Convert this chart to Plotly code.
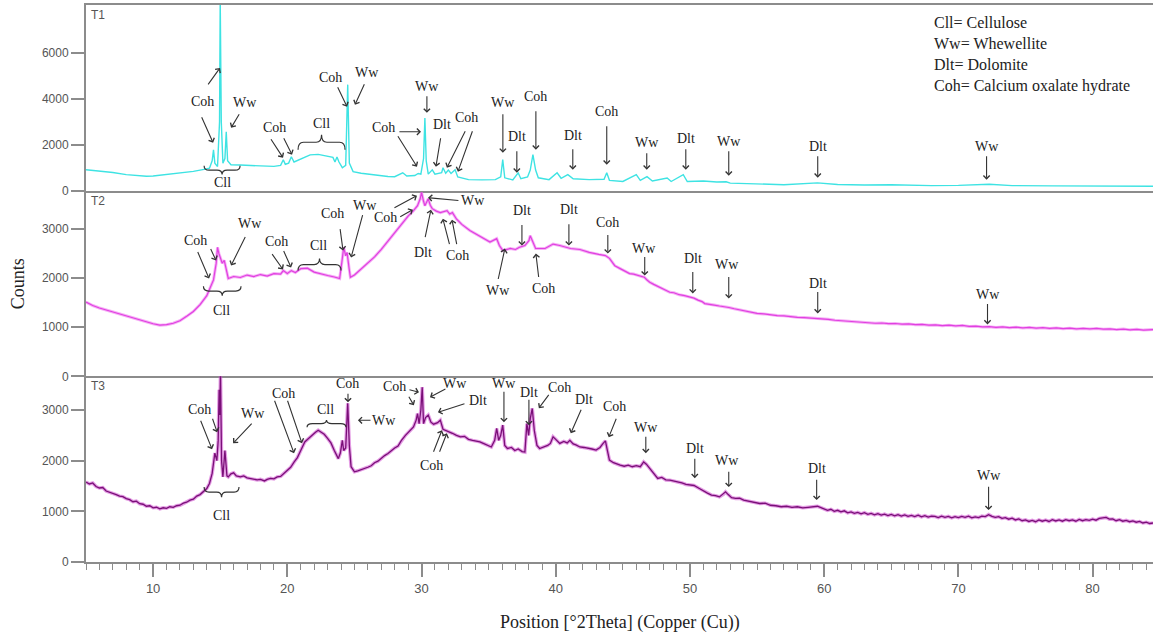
import plotly.graph_objects as go
from plotly.subplots import make_subplots

# ---------------- data (2Theta in degrees, counts) ----------------
t1_x = [5.0, 6.0, 7.0, 8.0, 9.0, 9.5, 10.0, 11.0, 12.0, 13.0, 13.8, 14.2, 14.4, 14.5, 14.6, 14.8, 14.95, 15.0, 15.08,
        15.2, 15.35, 15.45, 15.55, 15.8, 16.5, 17.0, 18.0, 19.0, 19.5, 19.7, 19.85, 20.1, 20.3, 20.5, 21.0, 21.7,
        22.3, 22.9, 23.4, 23.55, 23.7, 23.85, 24.1, 24.35, 24.5, 24.62, 24.9, 25.5, 26.5, 27.5, 28.0, 28.6, 28.9,
        29.5, 29.75, 29.95, 30.15, 30.25, 30.35, 30.5, 30.8, 31.0, 31.5, 31.6, 31.8, 32.0, 32.2, 32.5, 32.7, 33.5,
        34.5, 35.5, 35.9, 36.05, 36.2, 36.8, 37.2, 37.4, 37.9, 38.1, 38.3, 38.5, 38.7, 39.5, 40.1, 40.4, 40.9, 41.3,
        42.5, 43.6, 43.8, 44.0, 45.0, 46.0, 46.3, 46.8, 47.2, 48.3, 48.6, 49.5, 49.8, 51.0, 52.0, 52.7, 53.0, 55.0,
        57.0, 59.5, 61.0, 63.0, 65.0, 68.0, 70.0, 72.3, 74.0, 77.0, 80.0, 84.5]
t1_y = [910, 860, 790, 700, 640, 625, 640, 700, 770, 840, 930, 980, 1300, 1780, 1200, 1050, 3000, 8400, 3000,
        1200, 1400, 2570, 1300, 1130, 1120, 1100, 1080, 1060, 1100, 1350, 1150, 1200, 1480, 1250, 1380, 1560,
        1580, 1520, 1450, 1250, 1470, 1250, 1000, 1100, 4620, 1200, 830, 760, 680, 620, 610, 780, 640,
        660, 750, 720, 1400, 3170, 1300, 720, 910, 720, 780, 1000, 760, 900, 750, 910, 600, 480,
        470, 480, 600, 1350, 560, 470, 780, 520, 600, 900, 1570, 900, 560, 480, 780, 540, 700, 520,
        480, 500, 780, 450, 400, 700, 450, 610, 420, 550, 400, 700, 400, 420, 380, 390, 330, 300,
        260, 340, 270, 250, 260, 220, 230, 280, 220, 210, 200, 190]

t2_x = [5.0, 5.5, 6.0, 6.5, 7.0, 7.5, 8.0, 8.5, 9.0, 9.5, 10.0, 10.5, 11.0, 11.5, 12.0, 12.5, 13.0, 13.5, 14.0,
        14.25, 14.5, 14.7, 14.8, 14.9, 15.0, 15.15, 15.3, 15.45, 15.6, 16.0, 16.5, 17.0, 17.5, 18.0, 18.5, 19.0,
        19.5, 19.7, 20.0, 20.3, 20.6, 21.0, 21.5, 22.0, 22.5, 23.0, 23.5, 23.9, 24.1, 24.2, 24.35, 24.45, 24.6,
        24.7, 25.0, 25.5, 26.0, 26.5, 27.0, 27.5, 28.0, 28.5, 29.0, 29.4, 29.7, 29.9, 30.0, 30.15, 30.25, 30.5,
        30.65, 30.8, 31.1, 31.4, 31.9, 32.1, 32.3, 32.6, 33.0, 33.6, 34.0, 34.5, 35.1, 35.6, 35.8, 36.05, 36.6,
        37.0, 37.3, 37.7, 38.0, 38.1, 38.3, 38.5, 39.2, 39.8, 40.3, 41.1, 41.8, 42.5, 43.2, 43.7,
        44.0, 44.4, 44.8, 45.0, 45.3, 45.5, 45.8, 46.0, 46.3, 46.6, 46.8, 47.0, 47.3, 47.6, 47.8, 48.1, 48.5,
        48.8, 49.2, 49.6, 50.0, 50.3, 50.6, 50.9, 51.1, 51.5, 51.8, 52.2, 52.6, 52.9, 53.3, 53.7, 54.0, 54.5,
        55.0, 55.5, 56.0, 56.5, 57.0, 57.5, 58.0, 58.5, 59.0, 59.5, 59.8, 60.3, 60.8, 61.3, 61.8, 62.3, 62.8,
        63.3, 63.8, 64.3, 64.8, 65.3, 65.8, 66.3, 66.8, 67.3, 67.8, 68.3, 68.8, 69.3, 69.8, 70.3, 70.8, 71.3,
        71.8, 72.3, 72.8, 73.3, 73.8, 74.3, 74.8, 75.3, 75.8, 76.3, 76.8, 77.3, 77.8, 78.3, 78.8, 79.3, 79.8,
        80.3, 80.8, 81.3, 81.8, 82.3, 82.8, 83.3, 83.8, 84.5]
t2_y = [1510, 1440, 1390, 1350, 1310, 1260, 1230, 1190, 1150, 1110, 1070, 1040, 1050, 1080, 1130, 1220, 1320, 1460, 1640,
        1800, 1960, 2300, 2625, 2500, 2420, 2300, 2360, 2150, 1990, 2030, 2010, 2060, 2030, 2070, 2040, 2090,
        2080, 2150, 2090, 2150, 2110, 2190, 2200, 2120, 2080, 2050, 2020, 1990, 2400, 2625, 2450, 2520, 2200,
        2015, 2060, 2180, 2290, 2430, 2580, 2750, 2940, 3110, 3260, 3370, 3470, 3610, 3740, 3560, 3470, 3610,
        3480, 3410, 3360, 3330, 3370, 3300, 3330, 3200, 3090, 2965, 2900, 2820, 2730, 2800, 2660, 2560, 2600,
        2580, 2625, 2660, 2760, 2860, 2720, 2600, 2600, 2690, 2660, 2600, 2580, 2520, 2480, 2455,
        2400, 2250, 2190, 2160, 2120, 2090, 2080, 2060, 2040, 2015, 1960, 1915, 1870, 1830, 1800, 1760, 1710,
        1700, 1660, 1640, 1610, 1590, 1550, 1520, 1480, 1470, 1450, 1430, 1420, 1400, 1375, 1350, 1330, 1300,
        1280, 1270, 1250, 1235, 1230, 1210, 1200, 1195, 1185, 1190, 1175, 1160, 1140, 1130, 1115, 1110, 1090,
        1095, 1080, 1085, 1070, 1075, 1060, 1065, 1050, 1055, 1040, 1045, 1030, 1040, 1025, 1035, 1015, 1020,
        1005, 1010, 995, 1005, 990, 1000, 985, 995, 980, 990, 975, 985, 970, 980, 965, 975, 965,
        975, 960, 965, 950, 960, 945, 955, 940, 950]

t3_x = [5.0, 5.25, 5.5, 5.75, 6.0, 6.25, 6.5, 6.75, 7.0, 7.25, 7.5, 7.75, 8.0, 8.25, 8.5, 8.75, 9.0, 9.25, 9.5,
        9.75, 10.0, 10.25, 10.5, 10.75, 11.0, 11.25, 11.5, 11.75, 12.0, 12.25, 12.5, 12.75, 13.0, 13.25, 13.5,
        13.75, 14.0, 14.2, 14.4, 14.6, 14.75, 14.85, 14.92, 14.97, 15.02, 15.1, 15.2, 15.35, 15.5, 15.6, 15.8,
        16.0, 16.2, 16.5, 16.75, 17.0, 17.25, 17.5, 17.75, 18.0, 18.3, 18.5, 18.75, 19.0, 19.25, 19.5, 19.75,
        20.0, 20.25, 20.5, 20.75, 21.0, 21.3, 21.6, 21.9, 22.1, 22.3, 22.5, 22.75, 23.0, 23.25, 23.5, 23.8,
        23.95, 24.1, 24.2, 24.35, 24.5, 24.62, 24.75, 25.0, 25.25, 25.5, 25.75, 26.0, 26.25, 26.5, 26.75, 27.0,
        27.25, 27.5, 27.75, 28.0, 28.25, 28.5, 28.8, 29.1, 29.4, 29.6, 29.7, 29.82, 29.95, 30.05, 30.15, 30.3,
        30.5, 30.7, 30.9, 31.2, 31.4, 31.6, 31.8, 32.0, 32.3, 32.6, 32.9, 33.2, 33.5, 33.8, 34.1, 34.35, 34.6,
        34.9, 35.2, 35.45, 35.6, 35.75, 35.9, 36.05, 36.2, 36.4, 36.7, 36.95, 37.2, 37.5, 37.7, 37.85, 37.98,
        38.1, 38.25, 38.4, 38.6, 38.8, 39.1, 39.4, 39.6, 39.8, 40.0, 40.3, 40.6, 40.85, 41.05, 41.3, 41.5, 41.8,
        42.1, 42.4, 42.7, 43.0, 43.3, 43.5, 43.7, 43.85, 44.0, 44.3, 44.6, 44.8, 45.1, 45.4, 45.7, 46.0, 46.3,
        46.55, 46.75, 47.1, 47.35, 47.6, 47.9, 48.2, 48.5, 48.8, 49.1, 49.4, 49.7, 50.0, 50.3, 50.7, 51.0, 51.3,
        51.6, 51.9, 52.2, 52.5, 52.65, 52.85, 53.1, 53.4, 53.7, 54.0, 54.4, 54.8, 55.2, 55.6, 56.0, 56.4, 56.8,
        57.2, 57.6, 58.0, 58.4, 58.8, 59.2, 59.5, 59.8,
        60.0, 60.25, 60.5, 60.75, 61.0, 61.25, 61.5, 61.75, 62.0, 62.25, 62.5, 62.75, 63.0, 63.25, 63.5, 63.75,
        64.0, 64.25, 64.5, 64.75, 65.0, 65.25, 65.5, 65.75, 66.0, 66.25, 66.5, 66.75, 67.0, 67.25, 67.5, 67.75,
        68.0, 68.25, 68.5, 68.75, 69.0, 69.25, 69.5, 69.75, 70.0, 70.25, 70.5, 70.75, 71.0, 71.25, 71.5, 71.75,
        72.0, 72.25, 72.5, 72.75, 73.0, 73.25, 73.5, 73.75, 74.0, 74.25, 74.5, 74.75, 75.0, 75.25, 75.5, 75.75,
        76.0, 76.25, 76.5, 76.75, 77.0, 77.25, 77.5, 77.75, 78.0, 78.25, 78.5, 78.75, 79.0, 79.25, 79.5, 79.75,
        80.0, 80.25, 80.5, 80.75, 81.0, 81.25, 81.5, 81.75, 82.0, 82.25, 82.5, 82.75, 83.0, 83.25, 83.5, 83.75,
        84.0, 84.25, 84.5]
t3_y = [1580, 1540, 1560, 1490, 1460, 1470, 1400, 1380, 1350, 1330, 1300, 1290, 1250, 1230, 1190, 1200, 1150, 1140, 1100,
        1110, 1070, 1080, 1050, 1070, 1060, 1090, 1080, 1110, 1120, 1160, 1180, 1220, 1240, 1300, 1330,
        1400, 1450, 1550, 1750, 2150, 2000, 2400, 3400, 2900, 3750, 2000, 1680, 2200, 1700, 1680, 1740,
        1760, 1700, 1680, 1700, 1660, 1650, 1640, 1620, 1630, 1600, 1630, 1650, 1640, 1680, 1690, 1750,
        1800, 1870, 1970, 2060, 2200, 2370, 2440, 2520, 2560, 2600, 2570, 2520, 2440, 2350, 2200, 2040,
        2150, 2400, 2200, 2250, 3130, 2300, 1880, 1780, 1800, 1820, 1850, 1870, 1900, 1960, 1990, 2050,
        2100, 2140, 2200, 2250, 2290, 2400, 2500, 2580, 2665, 2800, 2930, 2730, 3000, 3450, 2730, 2850,
        2900, 2760, 2720, 2750, 2800, 2620, 2600, 2580, 2540, 2500, 2470, 2480, 2420, 2400, 2390, 2370, 2340,
        2310, 2270, 2400, 2635, 2400, 2500, 2700, 2300, 2240, 2260, 2200, 2230, 2180, 2170, 2730, 2500,
        2830, 3030, 2600, 2300, 2240, 2270, 2300, 2340, 2470, 2420, 2340, 2380, 2350, 2400, 2330, 2310, 2270,
        2260, 2250, 2230, 2210, 2260, 2330, 2390, 2200, 2010, 1960, 1920, 1910, 1890, 1910, 1880, 1900, 1880,
        1975, 1930, 1810, 1720, 1650, 1670, 1620, 1615, 1600, 1570, 1560, 1530, 1515, 1510, 1450, 1400, 1360,
        1320, 1310, 1285, 1340, 1385, 1330, 1270, 1255, 1260, 1220, 1200, 1180, 1155, 1160, 1120, 1110, 1090,
        1100, 1080, 1090, 1070, 1080, 1090, 1100, 1070,
        1050, 1020, 1040, 1000, 1020, 990, 1010, 970, 990, 960, 980, 950, 975, 940, 960, 930,
        955, 925, 945, 915, 940, 910, 935, 905, 930, 900, 920, 895, 925, 890, 915, 885,
        905, 900, 875, 905, 880, 900, 870, 895, 875, 900, 880, 905, 870, 890, 875, 905,
        895, 935, 900, 880, 895, 860, 875, 845, 865, 830, 850, 815, 830, 800, 820, 795,
        830, 805, 825, 800, 835, 810, 830, 805, 835, 815, 830, 805, 840, 815, 835, 820,
        845, 825, 860, 870, 880, 845, 850, 815, 835, 805, 820, 795, 810, 785, 800, 770,
        785, 760, 770]

panel_names = ["T1", "T2", "T3"]
y_tick_values = [[0, 2000, 4000, 6000], [0, 1000, 2000, 3000], [0, 1000, 2000, 3000]]
x_tick_values = [10, 20, 30, 40, 50, 60, 70, 80]
legend_lines = ["Cll= Cellulose", "Ww= Whewellite", "Dlt= Dolomite", "Coh= Calcium oxalate hydrate"]

# ---------------- annotations (data units of each panel) ----------------
# labels: (panel, text, x, y)
labels = [
    (1, "Coh", 13.65, 3872), (1, "Ww", 16.85, 3828), (1, "Coh", 19.08, 2741), (1, "Cll", 22.58, 2915),
    (1, "Coh", 23.18, 4916), (1, "Ww", 25.93, 5133), (1, "Cll", 15.14, 348), (1, "Coh", 27.20, 2741),
    (1, "Ww", 30.40, 4524), (1, "Dlt", 31.52, 2871), (1, "Coh", 33.38, 3176), (1, "Ww", 36.06, 3828),
    (1, "Dlt", 37.10, 2349), (1, "Coh", 38.52, 4089), (1, "Dlt", 41.27, 2393), (1, "Coh", 43.80, 3437),
    (1, "Ww", 46.78, 2088), (1, "Dlt", 49.69, 2262), (1, "Ww", 52.89, 2132), (1, "Dlt", 59.52, 1914),
    (1, "Ww", 72.10, 1914),
    (2, "Coh", 13.13, 2761), (2, "Ww", 17.22, 3106), (2, "Coh", 19.23, 2740), (2, "Cll", 22.29, 2659),
    (2, "Coh", 23.33, 3309), (2, "Ww", 25.79, 3471), (2, "Coh", 27.28, 3228), (2, "Ww", 33.83, 3573),
    (2, "Dlt", 30.10, 2517), (2, "Coh", 32.71, 2456), (2, "Ww", 35.69, 1746), (2, "Dlt", 37.48, 3370),
    (2, "Coh", 39.11, 1786), (2, "Dlt", 40.98, 3390), (2, "Coh", 43.88, 3126), (2, "Ww", 46.56, 2598),
    (2, "Dlt", 50.21, 2395), (2, "Ww", 52.74, 2274), (2, "Dlt", 59.52, 1888), (2, "Ww", 72.17, 1665),
    (2, "Cll", 15.06, 1340),
    (3, "Coh", 13.43, 3014), (3, "Ww", 17.45, 2935), (3, "Coh", 19.68, 3329), (3, "Cll", 22.81, 3014),
    (3, "Coh", 24.52, 3526), (3, "Ww", 27.20, 2797), (3, "Coh", 28.02, 3467), (3, "Ww", 32.49, 3526),
    (3, "Dlt", 34.20, 3191), (3, "Coh", 30.77, 1911), (3, "Ww", 36.14, 3526), (3, "Dlt", 38.00, 3349),
    (3, "Coh", 40.31, 3448), (3, "Dlt", 42.09, 3211), (3, "Coh", 44.40, 3073), (3, "Ww", 46.71, 2660),
    (3, "Dlt", 50.36, 2246), (3, "Ww", 52.74, 2009), (3, "Dlt", 59.44, 1852), (3, "Ww", 72.25, 1714),
    (3, "Cll", 15.06, 926),
]

# arrows: (panel, x_tail, y_tail, x_head, y_head)
arrows = [
    (1, 14.02, 4568, 14.99, 5350), (1, 13.57, 3263, 14.47, 2088), (1, 16.48, 3393, 15.81, 2741),
    (1, 18.71, 2306, 19.68, 1436), (1, 19.68, 2349, 20.35, 1566), (1, 23.70, 4568, 24.45, 3654),
    (1, 25.79, 4698, 25.04, 3741), (1, 28.24, 2567, 29.96, 2567), (1, 28.17, 2436, 29.66, 1044),
    (1, 30.40, 4176, 30.40, 3393), (1, 31.44, 2349, 31.07, 1044), (1, 33.31, 2654, 31.89, 1001),
    (1, 33.83, 2654, 32.71, 827), (1, 36.06, 3393, 36.06, 1653), (1, 37.10, 1784, 37.10, 783),
    (1, 38.52, 3524, 38.52, 1784), (1, 41.27, 1871, 41.27, 914), (1, 43.80, 2871, 43.80, 1131),
    (1, 46.78, 1697, 46.78, 914), (1, 49.69, 1871, 49.69, 914), (1, 52.89, 1784, 52.89, 653),
    (1, 59.52, 1566, 59.52, 566), (1, 72.10, 1566, 72.10, 479),
    (2, 13.28, 2558, 14.17, 1989), (2, 14.24, 2619, 14.69, 2355), (2, 16.92, 2862, 15.81, 2253),
    (2, 18.79, 2517, 19.68, 2172), (2, 19.68, 2578, 20.28, 2213), (2, 23.92, 3025, 24.15, 2558),
    (2, 25.64, 3309, 24.75, 2415), (2, 27.87, 3410, 29.66, 3674), (2, 28.30, 3228, 29.36, 3390),
    (2, 32.86, 3573, 30.48, 3634), (2, 30.25, 2801, 30.70, 3390), (2, 32.11, 2659, 31.59, 3207),
    (2, 32.64, 2659, 32.27, 3187), (2, 35.69, 1949, 36.21, 2598), (2, 37.48, 3106, 37.48, 2659),
    (2, 38.74, 1989, 38.52, 2497), (2, 40.98, 3126, 40.98, 2659), (2, 43.88, 2903, 43.88, 2497),
    (2, 46.63, 2456, 46.63, 2050), (2, 50.21, 2152, 50.21, 1685), (2, 52.89, 2050, 52.89, 1583),
    (2, 59.52, 1746, 59.52, 1279), (2, 72.17, 1502, 72.17, 1056),
    (3, 13.50, 2817, 14.39, 2226), (3, 14.39, 2857, 14.77, 2561), (3, 17.45, 2758, 15.96, 2344),
    (3, 19.01, 3211, 20.50, 2147), (3, 19.98, 3211, 21.09, 2344), (3, 24.52, 3349, 24.52, 3152),
    (3, 26.31, 2797, 25.26, 2797), (3, 28.99, 3408, 29.81, 3349), (3, 28.99, 3290, 29.43, 3093),
    (3, 31.89, 3428, 30.63, 3251), (3, 33.31, 3132, 31.22, 2955), (3, 30.85, 2147, 31.52, 2600),
    (3, 31.30, 2147, 31.89, 2541), (3, 36.14, 3388, 36.14, 2758), (3, 38.00, 3231, 38.00, 2699),
    (3, 39.56, 3329, 38.74, 3034), (3, 41.94, 3034, 41.12, 2541), (3, 44.55, 2857, 43.95, 2463),
    (3, 46.71, 2502, 46.71, 2147), (3, 50.36, 2069, 50.36, 1655), (3, 52.89, 1812, 52.89, 1478),
    (3, 59.44, 1655, 59.44, 1221), (3, 72.25, 1517, 72.25, 1024),
]

# braces: (panel, x_start, x_end, y_ends, y_tip)
braces = [
    (1, 13.80, 16.48, 1090, 700), (1, 20.80, 24.30, 1784, 2436),
    (2, 13.75, 16.55, 1830, 1640), (2, 20.80, 24.00, 2152, 2395),
    (3, 13.80, 16.40, 1478, 1280), (3, 21.47, 24.37, 2660, 2800),
]

# ---------------- figure ----------------
serif = "Liberation Serif"
sans = "Liberation Sans"
axis_grey = "#8c8c8c"
ink = "#222222"

fig = make_subplots(rows=3, cols=1, shared_xaxes=True, vertical_spacing=0)

fig.add_trace(go.Scatter(x=t1_x, y=t1_y, mode="lines", line=dict(color="#3ee3e3", width=1.4),
                         showlegend=False), row=1, col=1)
fig.add_trace(go.Scatter(x=t2_x, y=t2_y, mode="lines", line=dict(color="rgba(238,110,238,0.55)", width=3),
                         showlegend=False), row=2, col=1)
fig.add_trace(go.Scatter(x=t2_x, y=t2_y, mode="lines", line=dict(color="#e040e0", width=1.2),
                         showlegend=False), row=2, col=1)
fig.add_trace(go.Scatter(x=t3_x, y=t3_y, mode="lines", line=dict(color="rgba(210,90,210,0.6)", width=3.5),
                         showlegend=False), row=3, col=1)
fig.add_trace(go.Scatter(x=t3_x, y=t3_y, mode="lines", line=dict(color="#7a0f78", width=1.3),
                         showlegend=False), row=3, col=1)

y_ranges = [[0, 8090], [0, 3776], [0, 3664]]
for r in range(1, 4):
    fig.update_yaxes(row=r, col=1, range=y_ranges[r - 1], tickvals=y_tick_values[r - 1],
                     showgrid=False, zeroline=False, showline=True, linecolor=axis_grey, linewidth=2,
                     ticks="outside", ticklen=13, tickwidth=1.5, tickcolor=axis_grey,
                     tickfont=dict(family=sans, size=12, color="#555555"))
    fig.update_xaxes(row=r, col=1, range=[5, 84.5], showgrid=False, zeroline=False, showline=True,
                     linecolor=axis_grey, linewidth=2)

fig.update_xaxes(row=1, col=1, mirror=True, ticks="", showticklabels=False)
fig.update_xaxes(row=2, col=1, ticks="", showticklabels=False)
fig.update_xaxes(row=3, col=1, tickvals=x_tick_values, ticks="outside", ticklen=13, tickwidth=1.5,
                 tickcolor=axis_grey, showticklabels=True,
                 tickfont=dict(family=sans, size=13, color="#555555"),
                 minor=dict(dtick=1, tick0=0, ticks="outside", ticklen=6, tickwidth=1.2, tickcolor=axis_grey,
                            showgrid=False))

annotations = []
axref = {1: ("x", "y"), 2: ("x2", "y2"), 3: ("x3", "y3")}
for p, txt, x, y in labels:
    xr, yr = axref[p]
    annotations.append(dict(xref=xr, yref=yr, x=x, y=y, text=txt, showarrow=False,
                            xanchor="center", yanchor="middle",
                            font=dict(family=serif, size=14, color=ink)))
for p, xt, yt, xh, yh in arrows:
    xr, yr = axref[p]
    annotations.append(dict(xref=xr, yref=yr, x=xh, y=yh, axref=xr, ayref=yr, ax=xt, ay=yt, text="",
                            showarrow=True, arrowhead=4, arrowsize=1.1, arrowwidth=1.1, arrowcolor="#333333"))
for i, name in enumerate(panel_names):
    xr, yr = axref[i + 1]
    annotations.append(dict(xref=xr + " domain", yref=yr + " domain", x=0.003, y=0.995, xanchor="left",
                            yanchor="top", text=name, showarrow=False,
                            font=dict(family=sans, size=12, color="#555555")))
legend_y = [7308, 6394, 5481, 4568]
for txt, ly in zip(legend_lines, legend_y):
    annotations.append(dict(xref="x", yref="y", x=68.0, y=ly, xanchor="left", yanchor="middle", text=txt,
                            showarrow=False, font=dict(family=serif, size=16, color=ink)))
annotations.append(dict(xref="paper", yref="paper", x=0.5, y=-0.108, xanchor="center", yanchor="middle",
                        text="Position [°2Theta] (Copper (Cu))",
                        showarrow=False, font=dict(family=serif, size=18, color=ink)))
annotations.append(dict(xref="paper", yref="paper", x=-0.064, y=0.5, xanchor="center", yanchor="middle",
                        text="Counts", textangle=-90,
                        showarrow=False, font=dict(family=serif, size=18, color=ink)))

shapes = []
for p, x1, x2, yb, ytip in braces:
    xr, yr = axref[p]
    xm = (x1 + x2) / 2
    ym = (yb + ytip) / 2
    q = min(0.4, (x2 - x1) * 0.14)
    path = (f"M{x1},{yb} Q{x1},{ym} {x1 + q},{ym} L{xm - q},{ym} Q{xm},{ym} {xm},{ytip} "
            f"Q{xm},{ym} {xm + q},{ym} L{x2 - q},{ym} Q{x2},{ym} {x2},{yb}")
    shapes.append(dict(type="path", path=path, xref=xr, yref=yr, line=dict(color="#333333", width=1.2)))

fig.update_layout(width=1153, height=639, margin=dict(l=86, r=0, t=5, b=77),
                  paper_bgcolor="white", plot_bgcolor="white", annotations=annotations, shapes=shapes,
                  showlegend=False)

fig.write_html("out.html")
